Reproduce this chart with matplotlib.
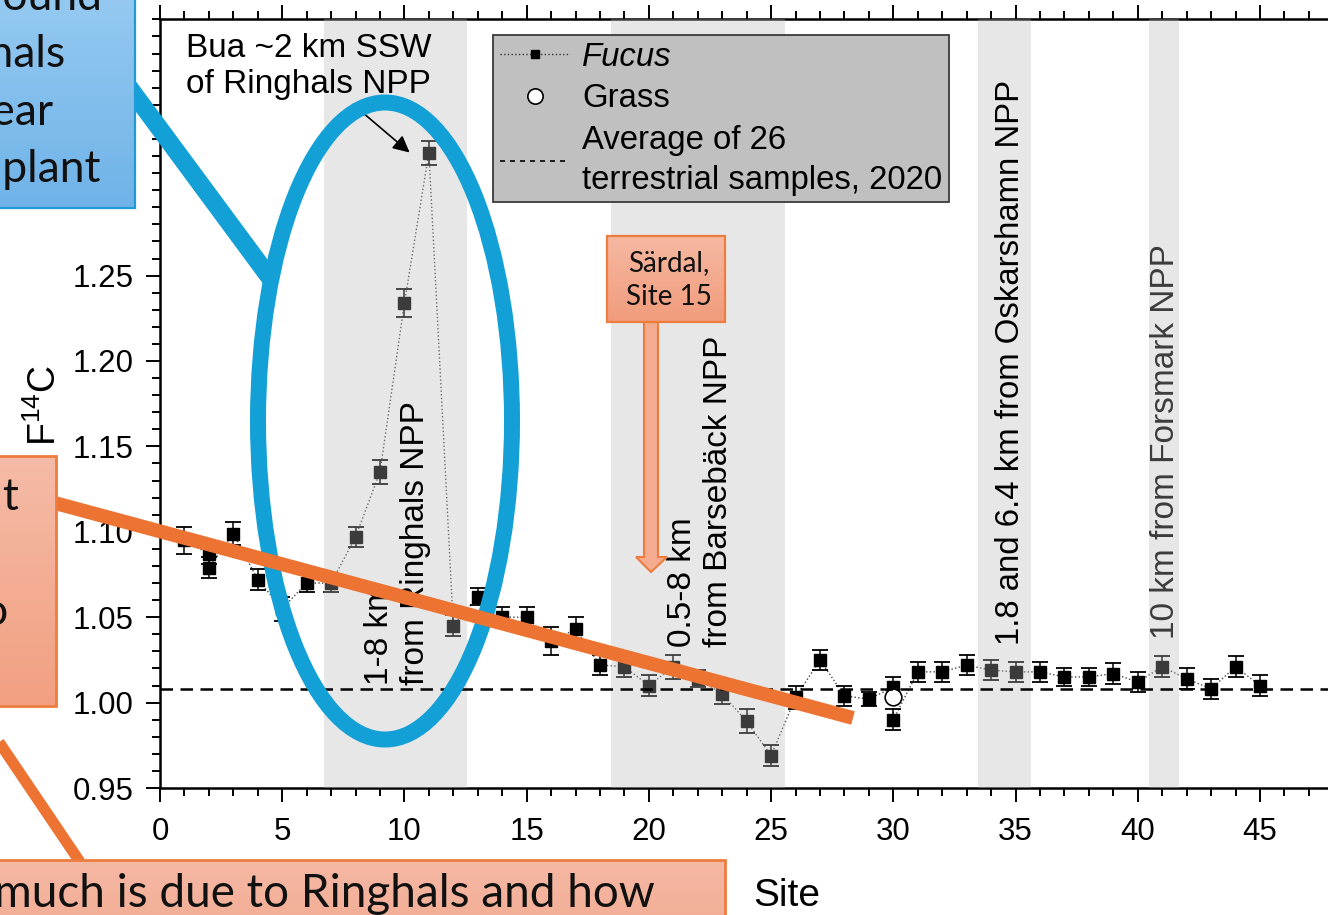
import numpy as np
import matplotlib
matplotlib.use("Agg")
import matplotlib.pyplot as plt
from matplotlib.lines import Line2D
from matplotlib.patches import Rectangle, Ellipse, Polygon
from matplotlib.colors import LinearSegmentedColormap
from matplotlib.ticker import MultipleLocator, FormatStrFormatter

plt.rcParams["font.family"] = ["Liberation Sans", "DejaVu Sans"]
plt.rcParams["mathtext.fontset"] = "custom"
plt.rcParams["mathtext.rm"] = "Liberation Sans"
plt.rcParams["mathtext.it"] = "Liberation Sans:italic"

# Fucus samples along the coast (two samples at sites 2 and 30)
fucus_site = [1, 2, 2, 3, 4, 5, 6, 7, 8, 9, 10, 11, 12, 13, 14, 15, 16, 17, 18, 19,
              20, 21, 22, 23, 24, 25, 26, 27, 28, 29, 30, 30, 31, 32, 33, 34, 35,
              36, 37, 38, 39, 40, 41, 42, 43, 44, 45]
fucus_f14c = [1.095, 1.087, 1.079, 1.099, 1.072, 1.055, 1.070, 1.070, 1.097, 1.135,
              1.234, 1.322, 1.045, 1.062, 1.050, 1.050, 1.036, 1.043, 1.022, 1.021,
              1.010, 1.021, 1.014, 1.005, 0.989, 0.969, 1.003, 1.025, 1.004, 1.002,
              1.009, 0.990, 1.018, 1.018, 1.022, 1.019, 1.018, 1.018, 1.015, 1.015,
              1.017, 1.012, 1.021, 1.014, 1.008, 1.021, 1.010]
fucus_err = [0.008, 0.006, 0.006, 0.007, 0.006, 0.007, 0.005, 0.005, 0.006, 0.007,
             0.008, 0.007, 0.006, 0.005, 0.006, 0.006, 0.008, 0.007, 0.006, 0.006,
             0.006, 0.007, 0.005, 0.006, 0.007, 0.006, 0.007, 0.006, 0.006, 0.004,
             0.006, 0.006, 0.006, 0.006, 0.006, 0.006, 0.006, 0.006, 0.005, 0.005,
             0.006, 0.006, 0.006, 0.006, 0.006, 0.006, 0.006]

grass_site = [30]
grass_f14c = [1.003]

terrestrial_avg = 1.008

# site ranges close to nuclear power plants
npp_spans = [(6.7, 12.55), (18.45, 25.55), (33.45, 35.65), (40.45, 41.7)]

BLUE = "#12a0d6"
ORANGE = "#ed7333"
ORANGE_EDGE = "#ed7d3f"
FS = 24

fig = plt.figure(figsize=(13.28, 9.15), dpi=100)
ax = fig.add_axes([160 / 1328, 127 / 915, 1173.3 / 1328, 768.6 / 915])

ax.errorbar(fucus_site, fucus_f14c, yerr=fucus_err, fmt="s", color="k", ms=8,
            ecolor="k", elinewidth=1.1, capsize=5.8, capthick=1.3, zorder=2)
ax.plot(fucus_site, fucus_f14c, ls=":", color="#444444", lw=1.0, zorder=1.9)
ax.plot(grass_site, grass_f14c, "o", ms=12, mfc="white", mec="k", mew=1.2, zorder=2.1)
ax.axhline(terrestrial_avg, color="k", lw=1.8, ls=(0, (5, 3)), zorder=4)

for x0, x1 in npp_spans:
    ax.axvspan(x0, x1, color=(0.72, 0.72, 0.72), alpha=0.325, lw=0, zorder=3)

ax.set_xlim(0, 48)
ax.set_ylim(0.95, 1.40)
ax.xaxis.set_major_locator(MultipleLocator(5))
ax.xaxis.set_minor_locator(MultipleLocator(1))
ax.yaxis.set_major_locator(MultipleLocator(0.05))
ax.yaxis.set_minor_locator(MultipleLocator(0.01))
ax.yaxis.set_major_formatter(FormatStrFormatter("%.2f"))
ax.set_yticks(np.arange(0.95, 1.251, 0.05))
ax.tick_params(which="both", direction="out", top=True, right=False, width=1.4,
               labelsize=22.5)
ax.tick_params(which="major", length=10, pad=9)
ax.tick_params(axis="x", which="major", pad=11)
ax.tick_params(which="minor", length=5.5)
for side in ["left", "bottom", "top", "right"]:
    ax.spines[side].set_linewidth(1.8)

ax.set_xlabel("Site", fontsize=28)
ax.xaxis.set_label_coords((787 - 160) / 1173.3, (788 - 878) / 768.6)
ax.set_ylabel("F$^{14}$C", fontsize=27)
ax.yaxis.set_label_coords((64 - 160) / 1173.3, (788 - 405) / 768.6)

ax.annotate("Bua ~2 km SSW\nof Ringhals NPP", xy=(10.3, 1.321), xytext=(1.05, 1.392),
            ha="left", va="top", fontsize=FS, zorder=4,
            arrowprops=dict(arrowstyle="-|>", color="k", lw=1.2, mutation_scale=25))

ax.text(9.7, 1.0105, "1-8 km\nfrom Ringhals NPP", rotation=90, ha="center", va="bottom",
        multialignment="left", fontsize=FS, zorder=4)
ax.text(22.1, 1.0328, "0.5-8 km\nfrom Barsebäck NPP", rotation=90, ha="center",
        va="bottom", multialignment="left", fontsize=FS, zorder=4)
ax.text(34.8, 1.034, "1.8 and 6.4 km from Oskarshamn NPP", rotation=90, ha="center",
        va="bottom", fontsize=23.7, zorder=4)
ax.text(41.15, 1.037, "10 km from Forsmark NPP", rotation=90, ha="center",
        va="bottom", fontsize=FS, zorder=2.5)

handles = [
    Line2D([], [], color="#333333", ls=":", lw=1.0, marker="s", ms=6, mfc="k", mec="k"),
    Line2D([], [], ls="none", marker="o", ms=11, mfc="white", mec="k", mew=1.2),
    Line2D([], [], color="k", ls=(0, (3, 3)), lw=1.2),
]
labels = ["Fucus", "Grass", "Average of 26\nterrestrial samples, 2020"]
leg = ax.legend(handles, labels, loc="upper left", bbox_to_anchor=(493 / 1328, 1 - 35 / 915),
                bbox_transform=fig.transFigure, borderaxespad=0, fontsize=23.7,
                fancybox=False, framealpha=1, facecolor="#c0c0c0", edgecolor="#3a3a3a",
                borderpad=0.2, labelspacing=0.32, handlelength=2.15, handletextpad=0.35)
leg.get_frame().set_linewidth(1.3)
leg.get_texts()[0].set_style("italic")
leg.get_texts()[2].set_linespacing(1.38)
leg.set_zorder(5)

# callout layer in figure pixel units
ov = fig.add_axes([0, 0, 1, 1], zorder=10)
ov.patch.set_alpha(0)


def gradient_box(x0, y0, x1, y1, c_top, c_bot, edge, lw=1.5, z=5):
    cmap = LinearSegmentedColormap.from_list("fill", [c_top, c_bot])
    ov.imshow(np.linspace(0, 1, 128).reshape(-1, 1), cmap=cmap, extent=(x0, x1, y1, y0),
              aspect="auto", interpolation="bilinear", zorder=z)
    ov.add_patch(Rectangle((x0, y0), x1 - x0, y1 - y0, fill=False, ec=edge, lw=lw,
                           zorder=z + 0.1))


# blue callout around the Ringhals peak
ov.plot([120, 270], [75, 278], color=BLUE, lw=13, solid_capstyle="butt", zorder=3)
ov.add_patch(Ellipse((385, 421), 254, 637, fill=False, ec=BLUE, lw=11.5, zorder=3))
gradient_box(-20, -20, 135, 208, "#98cbf2", "#6fb3e8", "#1f9bd7", lw=1.6)
lato = dict(family=["Lato", "DejaVu Sans"], color="#111111", zorder=6)
ov.text(103, 10, "around", ha="right", va="baseline", fontsize=32, **lato)
ov.text(66, 67, "Ringhals", ha="right", va="baseline", fontsize=32, **lato)
ov.text(54, 125, "nuclear", ha="right", va="baseline", fontsize=32, **lato)
ov.text(100, 182, "power plant", ha="right", va="baseline", fontsize=32, **lato)

# orange callouts on the trend
ov.plot([40, 853], [499, 718], color=ORANGE, lw=10, solid_capstyle="butt", zorder=3)
ov.plot([-20, 80], [714, 862], color=ORANGE, lw=8, solid_capstyle="butt", zorder=3)
gradient_box(-20, 456, 56, 706, "#f5bba7", "#f2a081", ORANGE_EDGE, lw=2)
ov.text(19, 510, "significant", ha="right", va="baseline", fontsize=32, **lato)
ov.text(8, 625, "to", ha="right", va="baseline", fontsize=32, **lato)
gradient_box(-20, 860, 725, 940, "#f5b8a4", "#f3ac93", ORANGE_EDGE, lw=2)
ov.text(-6, 907, "much is due to Ringhals and how", ha="left", va="baseline",
        fontsize=33, **lato)

# Särdal box and arrow
ov.add_patch(Polygon([(644, 322), (658, 322), (658, 557), (667, 557), (651, 572),
                      (636, 557), (644, 557)], closed=True, fc="#f4ab90",
                     ec=ORANGE_EDGE, lw=1.5, zorder=5))
gradient_box(607, 236, 725, 322, "#f6b8a2", "#f19c7c", ORANGE_EDGE, lw=1.6)
ov.text(669, 271, "Särdal,", ha="center", va="baseline", fontsize=20, **lato)
ov.text(669, 305, "Site 15", ha="center", va="baseline", fontsize=20, **lato)

ov.set_xlim(0, 1328)
ov.set_ylim(915, 0)
ov.axis("off")

fig.savefig("out.png", dpi=100)
